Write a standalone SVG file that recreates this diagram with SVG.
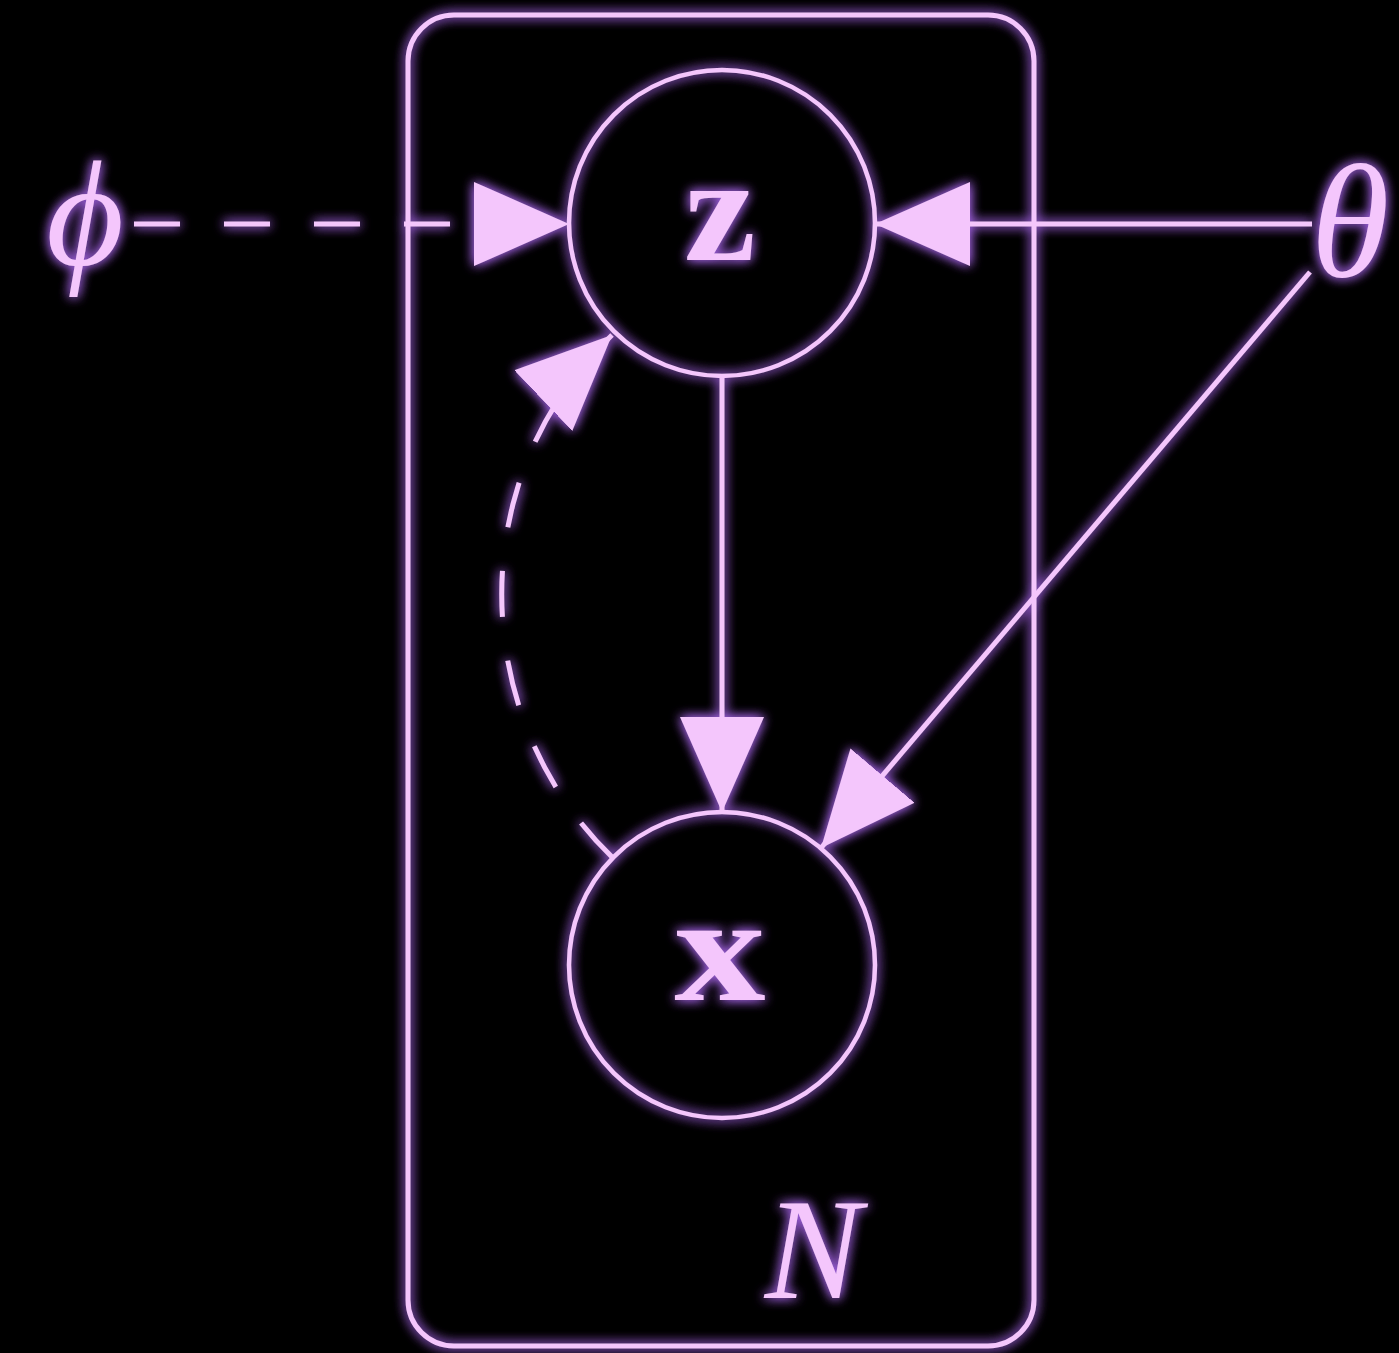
<svg xmlns="http://www.w3.org/2000/svg" width="1399" height="1353" viewBox="0 0 1399 1353">
<style>
.ln{stroke:#f4c6fc;stroke-width:5;fill:none}
.dash{stroke-dasharray:46 44}
.nd{stroke:#f4c6fc;stroke-width:4.5;fill:none}
.lbl{fill:#f4c6fc;font-family:"Liberation Serif","DejaVu Serif",serif}
.b{font-weight:bold}
.i{font-style:italic}
</style>
<defs>
<filter id="glow" filterUnits="userSpaceOnUse" x="0" y="0" width="1399" height="1353">
<feGaussianBlur in="SourceAlpha" stdDeviation="6" result="b"/>
<feFlood flood-color="#a060e0" flood-opacity="0.9"/>
<feComposite in2="b" operator="in" result="g"/>
<feMerge><feMergeNode in="g"/><feMergeNode in="g"/><feMergeNode in="SourceGraphic"/></feMerge>
</filter>
<marker id="ah" markerUnits="userSpaceOnUse" viewBox="0 0 95 84" markerWidth="95" markerHeight="84" refX="95" refY="42" orient="auto">
<path d="M0,0 L95,42 L0,84 Z" fill="#f4c6fc"/>
</marker>
</defs>
<rect width="1399" height="1353" fill="#000"/>
<g filter="url(#glow)">
<g id="plate">
<rect class="ln" x="408" y="15" width="626" height="1331" rx="46" ry="46"/>
<text class="lbl i" x="813" y="1298" font-size="145" text-anchor="middle">N</text>
</g>
<g id="node-z">
<circle class="nd" cx="722" cy="223" r="153"/>
<text class="lbl b" x="0" y="260" font-size="150" text-anchor="middle" transform="translate(720,0) scale(1.08,1)">z</text>
</g>
<g id="node-x">
<circle class="nd" cx="722" cy="965" r="153"/>
<text class="lbl b" x="0" y="1000" font-size="150" text-anchor="middle" transform="translate(720,0) scale(1.22,1)">x</text>
</g>
<g id="node-phi">
<text class="lbl i" x="85" y="265" font-size="150" text-anchor="middle">ϕ</text>
</g>
<g id="node-theta">
<text class="lbl i" x="1350" y="276" font-size="160" text-anchor="middle">θ</text>
</g>
<g id="connectors">
<path class="ln dash" d="M134,224 L569,224" marker-end="url(#ah)"/>
<path class="ln" d="M1312,224 L875,224" marker-end="url(#ah)"/>
<path class="ln" d="M722,376 L722,812" marker-end="url(#ah)"/>
<path class="ln" d="M1310,272 L821,848" marker-end="url(#ah)"/>
<path class="ln dash" d="M612,857 C470,720 460,480 612,335" marker-end="url(#ah)"/>
</g>
</g>
</svg>
